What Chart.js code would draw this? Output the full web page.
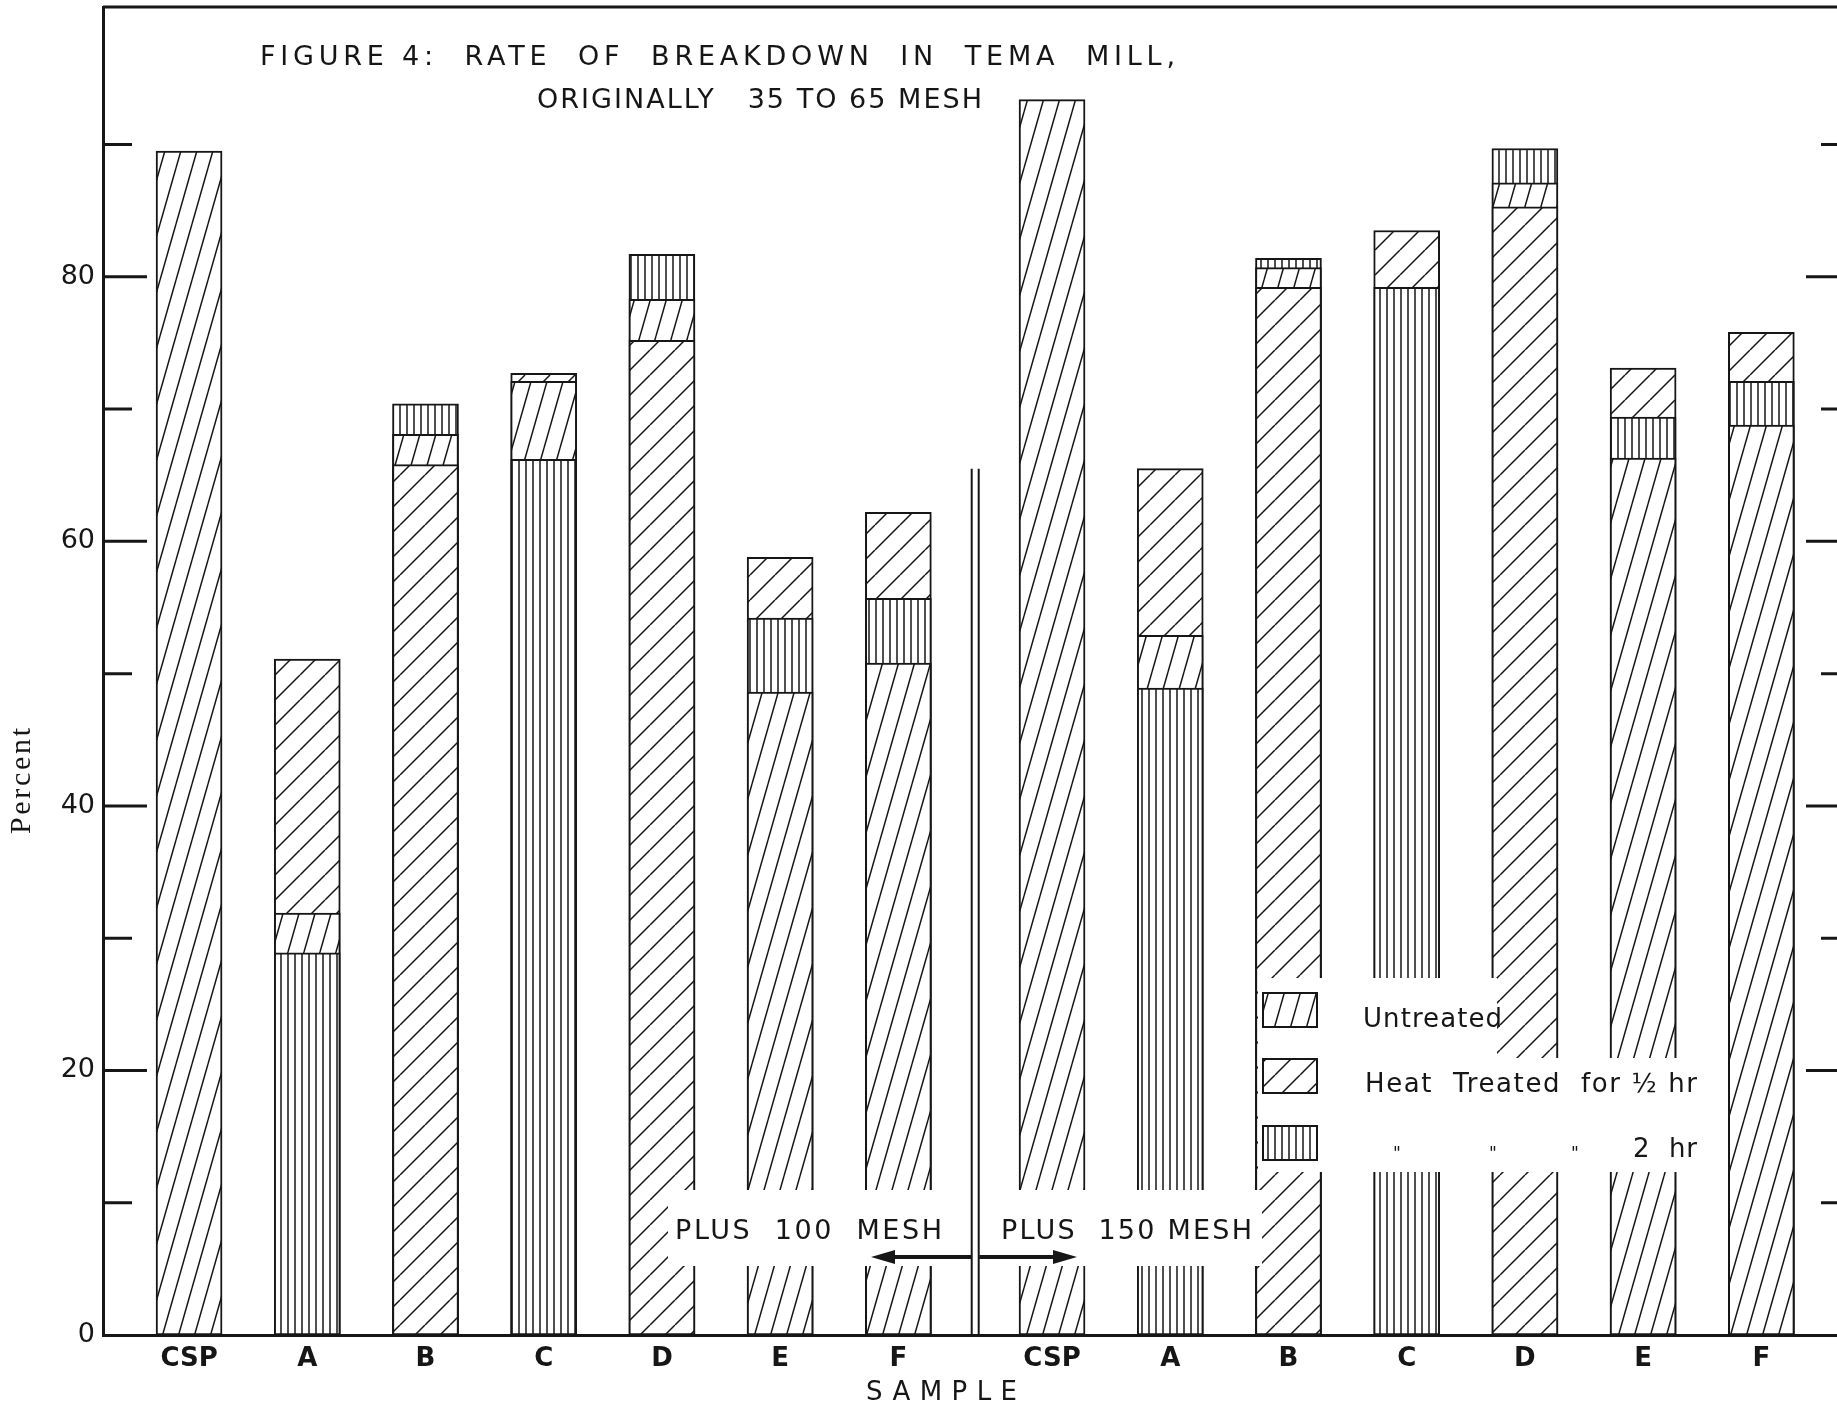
<!DOCTYPE html>
<html>
<head>
<meta charset="utf-8">
<script src="https://cdn.jsdelivr.net/npm/chart.js@4.4.1/dist/chart.umd.min.js"></script>
<style>
    html, body { margin: 0; padding: 0; overflow: hidden; background: #fff; }
    #wrap { width: 1880px; height: 1408px; position: relative; }
</style>
</head>
<body>
<div id="wrap"><canvas id="chart"></canvas></div>
<script>
// Data
const samples = ['CSP', 'A', 'B', 'C', 'D', 'E', 'F', 'CSP', 'A', 'B', 'C', 'D', 'E', 'F'];
const samplePositions = [0, 1, 2, 3, 4, 5, 6, 7.3, 8.3, 9.3, 10.3, 11.3, 12.3, 13.3];
const untreated = [89.5, 31.9, 68.1, 72.1, 78.3, 48.6, 50.8, 93.4, 52.9, 80.7, null, 87.1, 66.3, 68.8];
const heatHalfHour = [null, 51.1, 65.8, 72.7, 75.2, 58.8, 62.2, null, 65.5, 79.2, 83.5, 85.3, 73.1, 75.8];
const heatTwoHour = [null, 28.9, 70.4, 66.2, 81.7, 54.2, 55.7, null, 48.9, 81.4, 79.2, 89.7, 69.4, 72.1];
const yLabelValues = [0, 20, 40, 60, 80];
const yMarkValues = [10, 20, 30, 40, 50, 60, 70, 80, 90];

const INK = '#161616';
const canvas = document.getElementById('chart');
const mainCtx = canvas.getContext('2d');

// Hatch patterns
const makeHatch = (w, h, draw) => {
    const c = document.createElement('canvas');
    c.width = w;
    c.height = h;
    const g = c.getContext('2d');
    g.fillStyle = '#fff';
    g.fillRect(0, 0, w, h);
    g.strokeStyle = INK;
    g.lineWidth = 1.5;
    g.beginPath();
    draw(g, w, h);
    g.stroke();
    return mainCtx.createPattern(c, 'repeat');
};
const slanted = (g, w, h) => {
    [-w, 0, w].forEach((dx) => {
        g.moveTo(dx, h);
        g.lineTo(dx + w, 0);
    });
};
const hatches = {
    untreated: makeHatch(16, 56, slanted),
    halfHour: makeHatch(25, 25, slanted),
    twoHour: makeHatch(7, 4, (g, w, h) => { g.moveTo(1, 0); g.lineTo(1, h); }),
};

// Overlapping bars: biggest value behind, smallest in front
const series = [
    { values: untreated, fill: hatches.untreated },
    { values: heatHalfHour, fill: hatches.halfHour },
    { values: heatTwoHour, fill: hatches.twoHour },
];
const layers = [[], [], []];
const layerFills = [[], [], []];
samples.forEach((_, i) => {
    series
        .filter((s) => s.values[i] != null)
        .sort((a, b) => b.values[i] - a.values[i])
        .forEach((s, rank) => {
            layers[rank].push({ x: samplePositions[i], y: s.values[i] });
            layerFills[rank].push(s.fill);
        });
});
const datasets = layers.map((data, rank) => ({
    data,
    backgroundColor: layerFills[rank],
    borderColor: INK,
    borderWidth: 2,
    borderSkipped: false,
    barThickness: 66,
    grouped: false,
    order: 3 - rank,
}));

// Text helper: spreads letters to fill a given width
const spreadText = (ctx, text, left, midY, width, font) => {
    ctx.font = font;
    ctx.letterSpacing = '0px';
    const natural = ctx.measureText(text).width;
    const gap = (width - natural) / Math.max(1, text.length - 1);
    ctx.letterSpacing = `${gap}px`;
    ctx.textAlign = 'left';
    ctx.textBaseline = 'middle';
    ctx.fillText(text, left, midY);
    ctx.letterSpacing = '0px';
};

const arrow = (ctx, fromX, toX, yPos) => {
    const dir = Math.sign(toX - fromX);
    ctx.lineWidth = 4;
    ctx.beginPath();
    ctx.moveTo(fromX, yPos);
    ctx.lineTo(toX - dir * 16, yPos);
    ctx.stroke();
    ctx.beginPath();
    ctx.moveTo(toX, yPos);
    ctx.lineTo(toX - dir * 24, yPos - 7);
    ctx.lineTo(toX - dir * 24, yPos + 7);
    ctx.closePath();
    ctx.fill();
};

const decorations = {
    id: 'decorations',
    afterDraw(chart) {
        const { ctx, chartArea: a, scales: { x, y } } = chart;
        ctx.save();
        ctx.strokeStyle = INK;
        ctx.fillStyle = INK;

        // frame
        ctx.lineWidth = 3;
        ctx.beginPath();
        ctx.moveTo(a.left, a.top);
        ctx.lineTo(a.right, a.top);
        ctx.lineTo(a.right, a.bottom);
        ctx.stroke();

        // inward tick marks on both sides
        ctx.lineWidth = 3;
        yMarkValues.forEach((v) => {
            const py = y.getPixelForValue(v);
            const len = yLabelValues.includes(v) ? 44 : 29;
            ctx.beginPath();
            ctx.moveTo(a.left, py);
            ctx.lineTo(a.left + len, py);
            ctx.moveTo(a.right, py);
            ctx.lineTo(a.right - len, py);
            ctx.stroke();
        });

        // title
        const titleFont = '27px "DejaVu Sans"';
        spreadText(ctx, 'FIGURE 4:  RATE  OF  BREAKDOWN  IN  TEMA  MILL,', 260, 58, 915, titleFont);
        spreadText(ctx, 'ORIGINALLY   35 TO 65 MESH', 537, 101, 445, titleFont);

        // mesh group labels on a white patch
        ctx.fillStyle = '#fff';
        ctx.fillRect(668, 1190, 594, 76);
        ctx.fillStyle = INK;
        const sepX = x.getPixelForValue(6.65);
        ctx.lineWidth = 2;
        ctx.beginPath();
        [-3.5, 3.5].forEach((d) => {
            ctx.moveTo(sepX + d, y.getPixelForValue(65.5));
            ctx.lineTo(sepX + d, a.bottom);
        });
        ctx.stroke();
        const meshFont = '27px "DejaVu Sans"';
        spreadText(ctx, 'PLUS  100  MESH', 675, 1232, 267, meshFont);
        spreadText(ctx, 'PLUS  150 MESH', 1001, 1232, 251, meshFont);
        arrow(ctx, sepX - 4, 871, 1257);
        arrow(ctx, sepX + 4, 1077, 1257);

        // legend
        ctx.fillStyle = '#fff';
        ctx.fillRect(1258, 978, 239, 80);
        ctx.fillRect(1258, 1058, 447, 114);
        const legendRows = [
            { fill: hatches.untreated, top: 993 },
            { fill: hatches.halfHour, top: 1059 },
            { fill: hatches.twoHour, top: 1126 },
        ];
        ctx.lineWidth = 2;
        legendRows.forEach((row) => {
            ctx.fillStyle = row.fill;
            ctx.fillRect(1263, row.top, 54, 34);
            ctx.strokeRect(1263, row.top, 54, 34);
        });
        ctx.fillStyle = INK;
        const legendFont = '26px "DejaVu Sans"';
        spreadText(ctx, 'Untreated', 1363, 1020, 139, legendFont);
        spreadText(ctx, 'Heat  Treated  for ½ hr', 1365, 1085, 332, legendFont);
        ctx.font = '17px "DejaVu Sans"';
        ctx.textAlign = 'center';
        ['"', '"', '"'].forEach((m, i) => ctx.fillText(m, [1397, 1493, 1575][i], 1155));
        spreadText(ctx, '2  hr', 1633, 1150, 64, legendFont);

        // axis titles
        spreadText(ctx, 'SAMPLE', 866, 1393, 151, '26px "DejaVu Sans"');
        ctx.translate(22, 781);
        ctx.rotate(-Math.PI / 2);
        spreadText(ctx, 'Percent', -53, 0, 106, '30px "Liberation Serif"');
        ctx.restore();
    },
};

Chart.defaults.font.family = '"DejaVu Sans"';
Chart.defaults.color = INK;

// eslint-disable-next-line no-new
new Chart(canvas, {
    type: 'bar',
    data: { datasets },
    options: {
        responsive: true,
        maintainAspectRatio: false,
        animation: false,
        layout: { padding: { top: 7, right: 30, left: 0, bottom: 0 } },
        plugins: {
            legend: { display: false },
            tooltip: { enabled: false },
        },
        scales: {
            x: {
                type: 'linear',
                offset: false,
                min: -0.728,
                max: 14.05,
                afterBuildTicks: (axis) => { axis.ticks = samplePositions.map((value) => ({ value })); },
                afterFit: (axis) => {
                    axis.height = 73;
                    axis.paddingLeft = 0;
                    axis.paddingRight = 0;
                },
                ticks: {
                    callback: (value, index) => samples[index],
                    autoSkip: false,
                    maxRotation: 0,
                    padding: 9,
                    font: { size: 26, weight: 'bold' },
                },
                grid: { display: false, drawTicks: false },
                border: { display: true, color: INK, width: 3 },
            },
            y: {
                min: 0,
                max: 100.4,
                afterBuildTicks: (axis) => { axis.ticks = yLabelValues.map((value) => ({ value })); },
                afterFit: (axis) => {
                    axis.width = 103;
                    axis.paddingTop = 0;
                    axis.paddingBottom = 0;
                },
                ticks: { padding: 8, font: { size: 27 } },
                grid: { display: false, drawTicks: false },
                border: { display: true, color: INK, width: 3 },
            },
        },
    },
    plugins: [decorations],
});
</script>
</body>
</html>
